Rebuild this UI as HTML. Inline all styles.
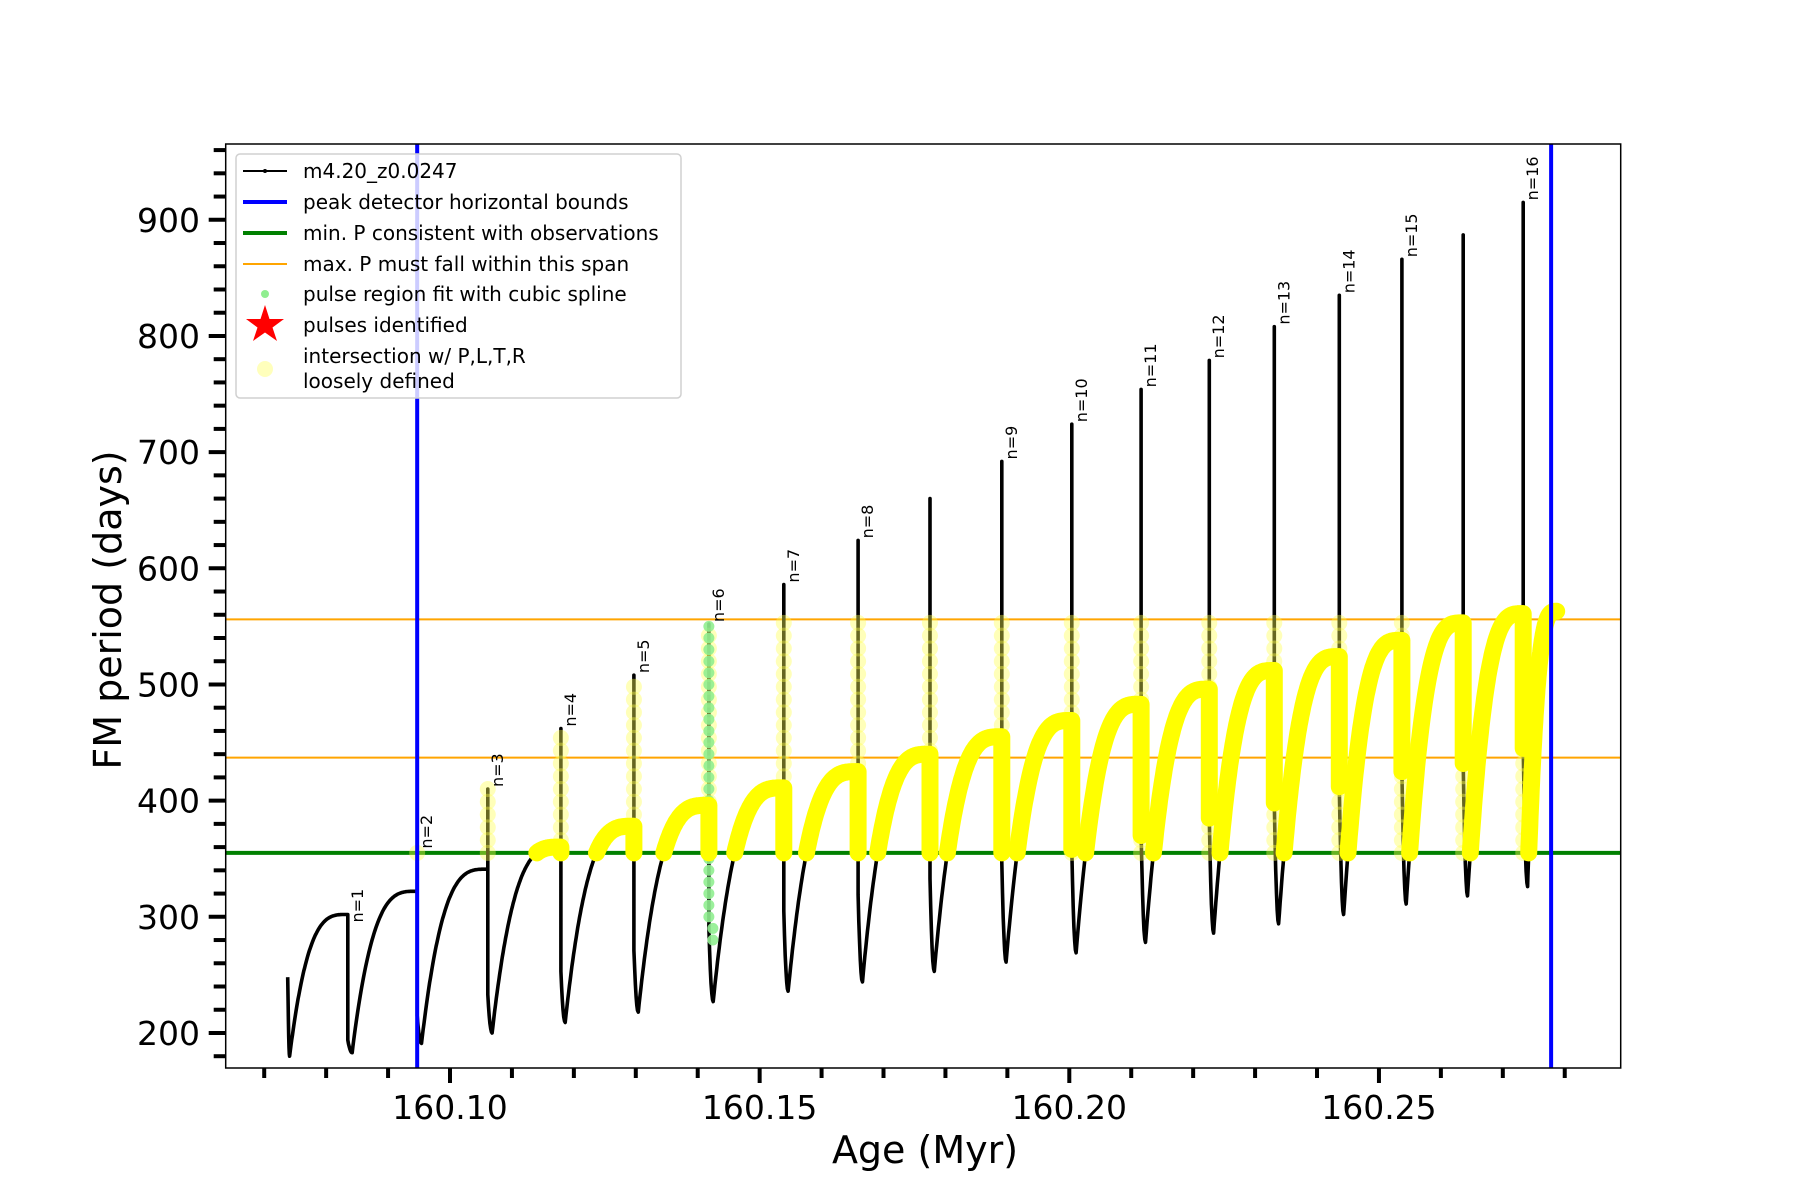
<!DOCTYPE html>
<html><head><meta charset="utf-8"><style>
html,body{margin:0;padding:0;background:#fff;}
svg{display:block;font-family:"DejaVu Sans","Liberation Sans",sans-serif;}
</style></head><body>
<svg id="chart" width="1800" height="1200" viewBox="0 0 1800 1200" xmlns="http://www.w3.org/2000/svg">
<rect x="0" y="0" width="1800" height="1200" fill="#fff"/>
<g id="plot"></g>
<g id="axes"></g>
<g id="legend"></g>
</svg>
<script>
// ---- data ----
const spikeAges = [160.0738,160.0835,160.0947,160.1061,160.1179,160.1297,160.1418,160.1539,160.1659,160.1775,160.1891,160.2004,160.2116,160.2226,160.2331,160.2436,160.2537,160.2636,160.2733];
const endAge = 160.2789;
const spikeVals = [248,302,357,410,462,508,552,586,624,660,692,724,754,779,808,835,866,887,915];
const dropVals = [248,194,215,233,253,271,290,305,319,333,347,358,370,385,398,412,425,432,445];
const minVals = [180,183,191,200,209,218,227,236,244,253,261,269,278,286,294,302,311,318,326];
const plateauVals = [302,322,341,360,378,396,411,425,440,455,469,483,496,512,524,538,553,561,563];
const pulseLabels = ["","n=1","n=2","n=3","n=4","n=5","n=6","n=7","n=8","","n=9","n=10","n=11","n=12","n=13","n=14","n=15","","n=16"];
const xTicks = [160.10,160.15,160.20,160.25];
const xTickLabels = ["160.10","160.15","160.20","160.25"];
const yTicks = [200,300,400,500,600,700,800,900];
const blueBounds = [160.0947,160.2778];
const minP = 355;
const maxPSpan = [437,556];
const splinePulseIndex = 6;

// ---- axes functions ----
const L=225.7,R=1620.7,T=144,B=1068;
function X(a){return 450+(a-160.10)*6193;}
function Y(v){return 568.3+(600-v)*1.1617;}
const NS="http://www.w3.org/2000/svg";
function mk(tag,attrs,parent){const e=document.createElementNS(NS,tag);for(const k in attrs)e.setAttribute(k,attrs[k]);parent.appendChild(e);return e;}
const plot=document.getElementById('plot'),axes=document.getElementById('axes'),legend=document.getElementById('legend');

const defs=mk('defs',{},document.getElementById('chart'));
const cp=mk('clipPath',{id:'clip'},defs);mk('rect',{x:L,y:T,width:R-L,height:B-T},cp);
plot.setAttribute('clip-path','url(#clip)');

let pts=[];const yellowSegs=[];
for(let i=0;i<spikeAges.length;i++){
  const a=spikeAges[i];const next=(i+1<spikeAges.length)?spikeAges[i+1]:endAge;
  if(i>0){pts.push([a,plateauVals[i-1]]);}
  pts.push([a,spikeVals[i]]);pts.push([a,dropVals[i]]);
  const ma=a+(i==0?0.0003:0.0007);
  // narrow curved descent to the minimum
  for(let k=1;k<=6;k++){const t=k/6;pts.push([a+(ma-a)*t,dropVals[i]+(minVals[i]-dropVals[i])*(1-Math.pow(1-t,2))]);}
  const rise=[];
  const N=80;
  for(let k=1;k<=N;k++){const t=k/N;const v=minVals[i]+(plateauVals[i]-minVals[i])*(1-Math.pow(1-t,3.2));rise.push([ma+(next-0.0002-ma)*t,v]);}
  pts=pts.concat(rise);
  const seg=[];
  if(i>0 && plateauVals[i-1]>=minP){yellowSegs.push([[a,plateauVals[i-1]],[a,Math.max(dropVals[i],minP)]]);}
  let prev=[ma,minVals[i]];
  for(const p of rise){if(p[1]>=minP){if(seg.length==0){const f=(minP-prev[1])/(p[1]-prev[1]);seg.push([prev[0]+(p[0]-prev[0])*f,minP]);}seg.push(p);}prev=p;}
  if(seg.length)yellowSegs.push(seg);
}

let hl=mk('line',{x1:L,x2:R,y1:Y(minP),y2:Y(minP),stroke:'#008000','stroke-width':4},plot);


maxPSpan.forEach(v=>{const e=mk('line',{x1:L,x2:R,y1:Y(v),y2:Y(v),stroke:'#ffa500','stroke-width':2},plot);

});

const line=mk('polyline',{points:pts.map(p=>X(p[0]).toFixed(1)+','+Y(p[1]).toFixed(1)).join(' '),fill:'none',stroke:'#000','stroke-width':3.6,'stroke-linejoin':'round'},plot);



for(let i=2;i<spikeAges.length;i++){
  const top=Math.min(spikeVals[i],maxPSpan[1]);
  for(let v=minP;v<=top;v+=11){const c=mk('circle',{cx:X(spikeAges[i]),cy:Y(v),r:8,fill:'#ffff50','fill-opacity':0.4},plot);
  
  }
}
{const i=splinePulseIndex;for(let v=dropVals[i]-10;v<=spikeVals[i];v+=10){const c=mk('circle',{cx:X(spikeAges[i])+(v<300?4:0),cy:Y(v),r:5.5,fill:'#90ee90','fill-opacity':0.9},plot);

}}

yellowSegs.forEach(s=>{const e=mk('polyline',{points:s.map(p=>X(p[0]).toFixed(1)+','+Y(p[1]).toFixed(1)).join(' '),fill:'none',stroke:'#ffff00','stroke-width':17,'stroke-linecap':'round','stroke-linejoin':'round'},plot);

});

blueBounds.forEach(a=>{const e=mk('line',{x1:X(a),x2:X(a),y1:T,y2:B,stroke:'#0000ff','stroke-width':4},plot);

});

for(let i=0;i<pulseLabels.length;i++){if(!pulseLabels[i])continue;
  const x=X(spikeAges[i])+15;const y=Y(spikeVals[i])-(i==1?-8:2);
  const t=mk('text',{x:x,y:y,transform:'rotate(-90 '+x+' '+y+')','font-size':16,fill:'#000'},plot);t.textContent=pulseLabels[i];
  
  }

const fr=mk('rect',{x:L,y:T,width:R-L,height:B-T,fill:'none',stroke:'#000','stroke-width':1.5},axes);


for(let v=180;v<=960;v+=20){const maj=(v%100==0);const e=mk('line',{x1:L-(maj?17:12),x2:L,y1:Y(v),y2:Y(v),stroke:'#000','stroke-width':4},axes);

}
yTicks.forEach(v=>{const t=mk('text',{x:200,y:Y(v)+12,'text-anchor':'end','font-size':33,fill:'#000'},axes);t.textContent=v;

});
for(let k=0;k<=21;k++){const a=160.07+k*0.01;const maj=(k%5==3);const e=mk('line',{x1:X(a),x2:X(a),y1:B,y2:B+(maj?15:10),stroke:'#000','stroke-width':4},axes);

}
xTicks.forEach((a,i)=>{const t=mk('text',{x:X(a),y:1119,'text-anchor':'middle','font-size':33,fill:'#000'},axes);t.textContent=xTickLabels[i];

});
{const t=mk('text',{x:925,y:1163,'text-anchor':'middle','font-size':38,fill:'#000'},axes);t.textContent='Age (Myr)';

}
{const t=mk('text',{x:121,y:610,'text-anchor':'middle','font-size':38,fill:'#000',transform:'rotate(-90 121 610)'},axes);t.textContent='FM period (days)';

}

const lb=mk('rect',{x:236,y:154,width:445,height:244,rx:4,fill:'#fff','fill-opacity':0.8,stroke:'#d0d0d0','stroke-width':1.5},legend);


const entries=[['m4.20_z0.0247',171],['peak detector horizontal bounds',202],['min. P consistent with observations',233],['max. P must fall within this span',264],['pulse region fit with cubic spline',294],['pulses identified',325],['intersection w/ P,L,T,R',356],['loosely defined',381]];
entries.forEach(e=>{const t=mk('text',{x:303,y:e[1]+7,'font-size':20,fill:'#000'},legend);t.textContent=e[0];

});
mk('line',{x1:243,x2:287,y1:171,y2:171,stroke:'#000','stroke-width':2},legend);
mk('circle',{cx:265,cy:171,r:2,fill:'#000'},legend);
mk('line',{x1:243,x2:287,y1:202,y2:202,stroke:'#0000ff','stroke-width':4},legend);
mk('line',{x1:243,x2:287,y1:233,y2:233,stroke:'#008000','stroke-width':4},legend);
mk('line',{x1:243,x2:287,y1:264,y2:264,stroke:'#ffa500','stroke-width':2},legend);
mk('circle',{cx:265,cy:294,r:4,fill:'#90ee90'},legend);
mk('polygon',{points:'265,305 269.5,319 284,319 272.5,327.5 277,341 265,332.5 253,341 257.5,327.5 246,319 260.5,319',fill:'#ff0000'},legend);
mk('ellipse',{cx:265,cy:369,rx:8,ry:8,fill:'#ffffa0','fill-opacity':0.7},legend);
</script>
</body></html>
